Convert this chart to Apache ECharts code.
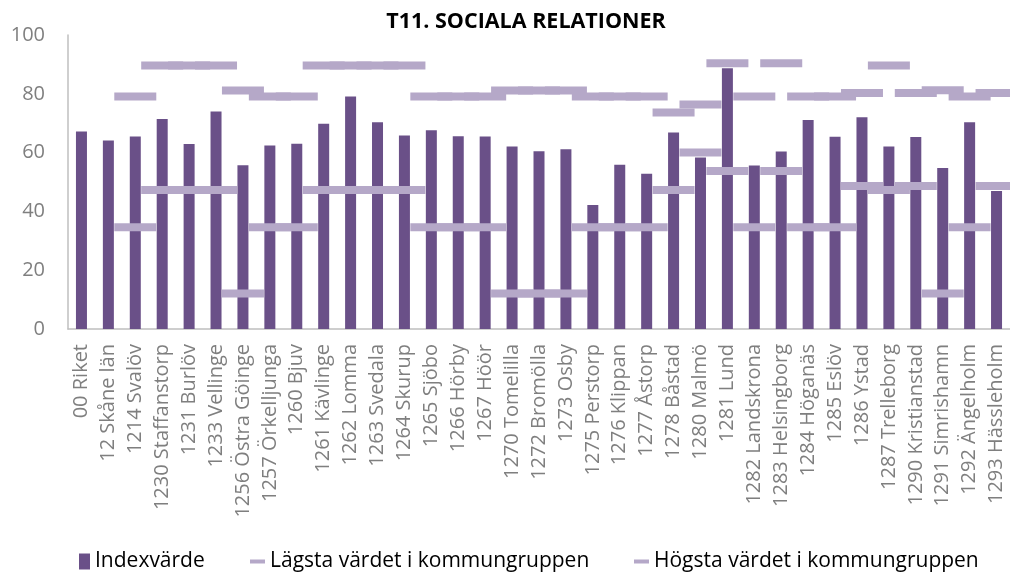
<!DOCTYPE html>
<html>
<head>
  <meta charset="utf-8">
  <title>T11. Sociala relationer</title>
  <script src="https://cdn.jsdelivr.net/npm/echarts@6/dist/echarts.min.js"></script>
  <style>
    html, body { margin: 0; padding: 0; background: #fff; }
    #chart { width: 1010px; height: 575px; }
  </style>
</head>
<body>
<div id="chart"></div>
<script>
var categories = ["00 Riket", "12 Skåne län", "1214 Svalöv", "1230 Staffanstorp", "1231 Burlöv", "1233 Vellinge",
  "1256 Östra Göinge", "1257 Örkelljunga", "1260 Bjuv", "1261 Kävlinge", "1262 Lomma", "1263 Svedala",
  "1264 Skurup", "1265 Sjöbo", "1266 Hörby", "1267 Höör", "1270 Tomelilla", "1272 Bromölla", "1273 Osby",
  "1275 Perstorp", "1276 Klippan", "1277 Åstorp", "1278 Båstad", "1280 Malmö", "1281 Lund", "1282 Landskrona",
  "1283 Helsingborg", "1284 Höganäs", "1285 Eslöv", "1286 Ystad", "1287 Trelleborg", "1290 Kristianstad",
  "1291 Simrishamn", "1292 Ängelholm", "1293 Hässleholm"];

var indexValues = [67.2, 64.1, 65.5, 71.4, 62.9, 74.0, 55.7, 62.4, 63.0, 69.8, 79.1, 70.3, 65.8, 67.6, 65.6,
  65.5, 62.1, 60.5, 61.1, 42.2, 55.9, 52.8, 66.8, 58.3, 88.7, 55.6, 60.4, 71.1, 65.4, 72.0, 62.1, 65.3,
  54.8, 70.3, 46.9];

var lowValues = [null, null, 34.6, 47.3, 47.3, 47.3, 12.1, 34.6, 34.6, 47.3, 47.3, 47.3, 47.3, 34.6, 34.6,
  34.6, 12.1, 12.1, 12.1, 34.6, 34.6, 34.6, 47.3, 60.0, 53.7, 34.6, 53.7, 34.6, 34.6, 48.6, 47.3, 48.6,
  12.1, 34.6, 48.6];

var highValues = [null, null, 79.1, 89.6, 89.6, 89.6, 81.1, 79.1, 79.1, 89.6, 89.6, 89.6, 89.6, 79.1, 79.1,
  79.1, 81.1, 81.1, 81.1, 79.1, 79.1, 79.1, 73.6, 76.4, 90.4, 79.1, 90.4, 79.1, 79.1, 80.3, 89.6, 80.3,
  81.2, 79.1, 80.3];

var yTicks = [0, 20, 40, 60, 80, 100];

var barColor = "#6a5088";
var markColor = "#b5a8c8";
var font = "'Open Sans', sans-serif";

var myChart = echarts.init(document.getElementById("chart"));

var legendText = { fontFamily: font, fontSize: 21, color: "#000" };

var option = {
  animation: false,
  title: {
    text: "T11. SOCIALA RELATIONER",
    left: 521,
    top: 6,
    textAlign: "center",
    textStyle: { fontFamily: font, fontSize: 21.5, fontWeight: "bold", color: "#000" }
  },
  legend: [{
    left: 74, top: 546,
    itemWidth: 11, itemHeight: 16, itemGap: 5,
    icon: "rect",
    textStyle: legendText,
    data: ["Indexvärde"]
  }, {
    left: 245, top: 546,
    itemWidth: 15, itemHeight: 4,
    icon: "rect",
    textStyle: legendText,
    data: ["Lägsta värdet i kommungruppen"]
  }, {
    left: 629, top: 546,
    itemWidth: 15, itemHeight: 4,
    icon: "rect",
    textStyle: legendText,
    data: ["Högsta värdet i kommungruppen"]
  }],
  grid: {
    left: 68,
    right: 0,
    top: 35,
    bottom: 246,
    containLabel: false
  },
  xAxis: {
    type: "category",
    data: categories,
    axisLine: { lineStyle: { color: "#bfbfbf", width: 1.5 } },
    axisTick: { show: false },
    axisLabel: {
      rotate: 90,
      interval: 0,
      margin: 15,
      fontFamily: font,
      fontSize: 20,
      color: "#7f7f7f"
    }
  },
  yAxis: {
    type: "value",
    min: yTicks[0],
    max: yTicks[yTicks.length - 1],
    interval: 20,
    axisLine: { show: true, lineStyle: { color: "#bfbfbf", width: 1.5 } },
    axisTick: { show: false },
    splitLine: { show: false },
    axisLabel: {
      margin: 23,
      fontFamily: font,
      fontSize: 20,
      color: "#7f7f7f"
    }
  },
  series: [{
    name: "Indexvärde",
    type: "bar",
    data: indexValues,
    barWidth: 11,
    itemStyle: { color: barColor },
    z: 2
  }, {
    name: "Lägsta värdet i kommungruppen",
    type: "scatter",
    data: lowValues,
    symbol: "rect",
    symbolSize: [42, 8],
    itemStyle: { color: markColor, opacity: 1 },
    z: 3
  }, {
    name: "Högsta värdet i kommungruppen",
    type: "scatter",
    data: highValues,
    symbol: "rect",
    symbolSize: [42, 8],
    itemStyle: { color: markColor, opacity: 1 },
    z: 3
  }]
};

myChart.setOption(option);
</script>
</body>
</html>
